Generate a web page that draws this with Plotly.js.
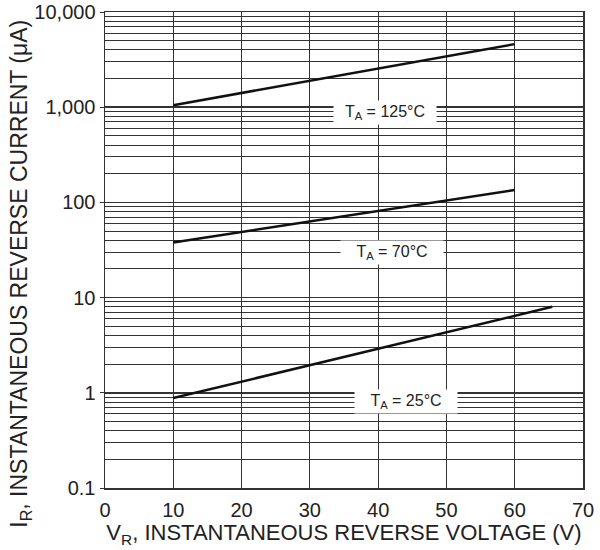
<!DOCTYPE html>
<html>
<head>
<meta charset="utf-8">
<script src="https://cdn.plot.ly/plotly-3.0.1.min.js"></script>
<style>html,body{margin:0;padding:0;background:#fff;}</style>
</head>
<body>
<div id="chart" style="width:600px;height:550px;"></div>
<script>
// Data
const volt125 = [10, 60];
const curr125 = [1050, 4600];
const volt70 = [10, 60];
const curr70 = [38, 135];
const volt25 = [10, 65.5];
const curr25 = [0.88, 8.0];

const xTicks = [0, 10, 20, 30, 40, 50, 60, 70];
const yTickVals = [0.1, 1, 10, 100, 1000, 10000];
const yTickText = ['0.1', '1', '10', '100', '1,000', '10,000'];
const yMinorVals = [];
[0.1, 1, 10, 100, 1000].forEach(d => { for (let k = 2; k <= 9; k++) yMinorVals.push(d * k); });

const labels = [
  {text: 'T<sub>A</sub> = 125°C', x: 41.0, y: 870},
  {text: 'T<sub>A</sub> = 70°C', x: 42.0, y: 30},
  {text: 'T<sub>A</sub> = 25°C', x: 44.1, y: 0.82}
];
const yTitle = 'I<sub>R</sub>, INSTANTANEOUS REVERSE CURRENT (μA)';
const xTitle = 'V<sub>R</sub>, INSTANTANEOUS REVERSE VOLTAGE (V)';

const FONT = '"Liberation Sans", Arial, sans-serif';
const lineStyle = {color: '#111', width: 2.5};

const traces = [
  {x: volt125, y: curr125, mode: 'lines', line: lineStyle, showlegend: false, hoverinfo: 'skip'},
  {x: volt70, y: curr70, mode: 'lines', line: lineStyle, showlegend: false, hoverinfo: 'skip'},
  {x: volt25, y: curr25, mode: 'lines', line: lineStyle, showlegend: false, hoverinfo: 'skip'}
];

const annots = labels.map(l => ({
  text: l.text, x: l.x, y: Math.log10(l.y), xref: 'x', yref: 'y',
  showarrow: false, bgcolor: '#fff', width: 100, height: 21, borderpad: 1,
  font: {size: 16, family: FONT, color: '#222'}
}));
annots.push({
  text: yTitle, xref: 'paper', yref: 'paper', x: -0.176, y: 0.45,
  xanchor: 'center', yanchor: 'middle', textangle: -90, showarrow: false,
  font: {size: 23, family: FONT, color: '#222'}
});

const layout = {
  width: 600, height: 550,
  margin: {l: 105, r: 17, t: 12, b: 62},
  paper_bgcolor: '#fff', plot_bgcolor: '#fff',
  font: {family: FONT, color: '#222'},
  showlegend: false,
  xaxis: {
    range: [0, 70], tickvals: xTicks, ticktext: xTicks.map(String),
    showgrid: true, gridcolor: '#333', gridwidth: 1,
    showline: true, linecolor: '#333', linewidth: 1.5, mirror: true,
    zeroline: false, ticks: '', ticklabelstandoff: 3,
    tickfont: {size: 20, family: FONT, color: '#222'},
    title: {text: xTitle, font: {size: 22, family: FONT, color: '#222'}, standoff: 2}
  },
  yaxis: {
    type: 'log', range: [-1, 4],
    tickvals: yTickVals, ticktext: yTickText,
    showgrid: true, gridcolor: '#333', gridwidth: 1.5,
    showline: true, linecolor: '#333', linewidth: 1.5, mirror: true,
    zeroline: false, ticks: 'outside', ticklen: 4, tickcolor: '#333',
    tickfont: {size: 20, family: FONT, color: '#222'},
    minor: {tickmode: 'array', tickvals: yMinorVals, showgrid: true, gridcolor: '#333', gridwidth: 1, ticks: ''}
  },
  annotations: annots
};

Plotly.newPlot('chart', traces, layout, {staticPlot: true, displayModeBar: false});
</script>
</body>
</html>
